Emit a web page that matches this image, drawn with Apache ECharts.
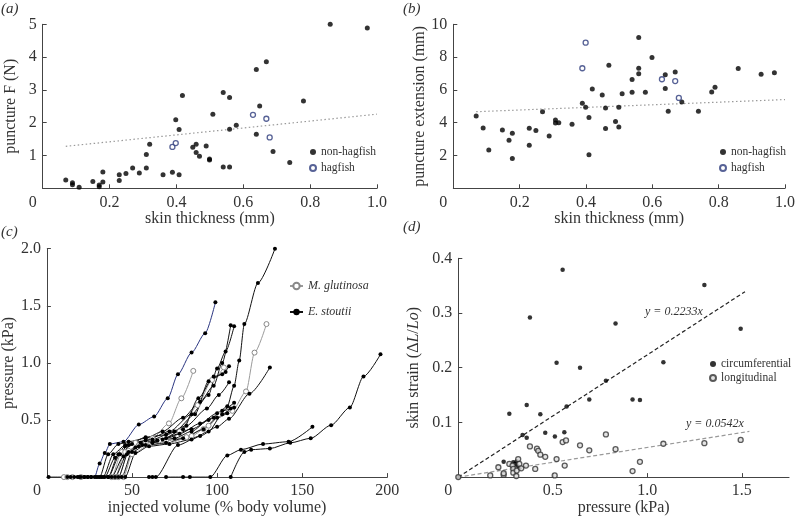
<!DOCTYPE html>
<html><head><meta charset="utf-8">
<script src="https://cdn.jsdelivr.net/npm/echarts@6/dist/echarts.min.js"></script>
<style>html,body{margin:0;padding:0;background:#fff}#c{width:798px;height:517px}</style>
</head><body><div id="c"></div>
<script>
// ---------- Panel (a): puncture force vs skin thickness ----------
const aNonHagfish = [[0.069,0.25],[0.089,0.17],[0.089,0.11],[0.109,0.03],[0.15,0.21],[0.169,0.10],[0.169,0.05],[0.18,0.50],[0.18,0.19],[0.229,0.41],[0.229,0.24],[0.249,0.45],[0.269,0.62],[0.289,0.47],[0.31,1.03],[0.31,0.62],[0.32,1.34],[0.36,0.41],[0.388,0.49],[0.398,2.09],[0.408,1.79],[0.408,0.41],[0.418,2.83],[0.449,1.25],[0.459,1.34],[0.459,1.09],[0.469,0.98],[0.489,1.29],[0.499,0.89],[0.499,0.86],[0.509,2.26],[0.54,2.92],[0.54,0.65],[0.559,2.77],[0.559,1.80],[0.559,0.65],[0.579,1.92],[0.639,3.62],[0.639,1.65],[0.649,2.51],[0.669,3.86],[0.689,1.12],[0.739,0.79],[0.78,2.66],[0.86,5.0],[0.971,4.89]];
const aHagfish = [[0.388,1.26],[0.398,1.38],[0.629,2.24],[0.669,2.12],[0.679,1.55]];
const aTrend = [[0.069,1.28],[1.0,2.26]];

// ---------- Panel (b): puncture extension vs skin thickness ----------
const bNonHagfish = [[0.069,4.41],[0.09,3.68],[0.107,2.34],[0.148,3.56],[0.168,2.93],[0.178,3.35],[0.178,1.81],[0.229,3.66],[0.229,2.62],[0.249,3.52],[0.269,4.67],[0.289,3.19],[0.308,4.17],[0.308,3.98],[0.318,4.00],[0.358,3.90],[0.389,5.18],[0.399,4.94],[0.409,4.31],[0.409,2.05],[0.419,6.06],[0.449,5.69],[0.459,4.90],[0.459,3.64],[0.469,7.50],[0.489,4.07],[0.499,4.94],[0.499,3.74],[0.509,5.77],[0.539,6.63],[0.539,5.85],[0.559,9.19],[0.559,7.32],[0.559,6.99],[0.579,5.85],[0.599,7.97],[0.639,6.93],[0.639,6.08],[0.648,4.70],[0.669,7.09],[0.689,5.26],[0.739,4.70],[0.779,5.87],[0.789,6.16],[0.859,7.30],[0.928,6.95],[0.968,7.05]];
const bHagfish = [[0.389,7.32],[0.399,8.88],[0.629,6.65],[0.669,6.54],[0.68,5.51]];
const bTrend = [[0.069,4.67],[1.0,5.41]];

// ---------- Panel (c): pressure vs injected volume ----------
const cBlue = [[14,0],[19,0],[24,0],[28,0],[31,0.12],[34,0.21],[37,0.29],[45,0.31],[54,0.46],[63,0.53],[71,0.69],[77,0.9],[85,1.09],[93,1.26],[99,1.53]];
const cK1 = [[1,0],[22,0],[34,0],[40,0.17],[46,0.27],[55,0.3],[70,0.34],[85,0.42],[98,0.52],[106,0.62],[110,0.8],[113,1.02],[116,1.34],[124,1.7],[134,2.0]];
const cK2 = [[12,0],[26,0],[31,0],[36,0.2],[42,0.29],[48,0.31],[58,0.34],[68,0.4],[80,0.52],[90,0.66],[98,0.8],[103,1.0],[108,1.33]];
const cK3 = [[16,0],[29,0],[33,0],[39,0.2],[46,0.28],[58,0.32],[72,0.4],[85,0.55],[95,0.72],[100,0.95],[105,1.1],[110,1.32]];
const cK4 = [[20,0],[36,0],[43,0.2],[50,0.29],[62,0.33],[75,0.4],[87,0.55],[95,0.84],[103,0.9],[107,0.97]];
const cK5 = [[60,0],[62,0],[64,0],[77,0.28],[90,0.36],[100,0.44],[107,0.51],[119,0.73],[131,0.96]];
const cK6 = [[22,0],[38,0],[45,0.18],[52,0.26],[62,0.3],[75,0.34],[85,0.4],[95,0.5],[103,0.58],[110,0.61]];
const cK7 = [[24,0],[40,0],[47,0.2],[54,0.27],[65,0.32],[78,0.38],[90,0.47],[100,0.56],[110,0.65]];
const cK8 = [[26,0],[42,0],[48,0.22],[56,0.28],[68,0.33],[80,0.42],[89,0.69],[98,0.88],[105,0.92]];
const cK9 = [[18,0],[36,0],[42,0.2],[48,0.28],[58,0.35],[70,0.37],[82,0.45],[94,0.6],[101,0.72],[107,0.83]];
const cK10 = [[30,0],[44,0],[50,0.22],[58,0.28],[70,0.3],[80,0.34],[92,0.42],[100,0.52],[106,0.56]];
const cK11 = [[32,0],[46,0],[52,0.21],[60,0.27],[72,0.29],[85,0.33],[95,0.4],[103,0.55],[108,0.6]];
const cR1 = [[70,0],[80,0],[84,0],[96,0],[106,0.19],[114,0.24],[127,0.29],[142,0.31],[156,0.44]];
const cR2 = [[108,0],[116,0.22],[120,0.24],[131,0.25],[143,0.3],[155,0.34],[167,0.455],[178,0.61],[186,0.88],[196,1.075]];
const cG1 = [[10,0],[38,0],[44,0.22],[52,0.3],[62,0.34],[71.7,0.47],[79,0.69],[86,0.93]];
const cG2 = [[15,0],[45,0],[50,0.2],[60,0.28],[72,0.3],[85,0.36],[95,0.45],[102,0.55],[109,0.58],[117,0.75],[122,1.09],[129,1.34]];
const cG3 = [[12,0],[40,0],[46,0.22],[54,0.28],[66,0.32],[78,0.4],[88.5,0.63],[97,0.85],[104,0.96]];
const cG4 = [[20,0],[42,0],[48,0.23],[58,0.3],[70,0.32],[82,0.35],[92,0.42],[101,0.55]];
const cStoutii = [cK1,cK2,cK3,cK4,cK5,cK6,cK7,cK8,cK9,cK10,cK11,cR1,cR2];
const cGlutinosa = [cG1,cG2,cG3,cG4];

// ---------- Panel (d): skin strain vs pressure ----------
const dCirc = [[0,0],[0.552,0.379],[1.302,0.351],[0.379,0.292],[0.832,0.281],[1.494,0.271],[0.52,0.209],[0.644,0.2],[1.085,0.21],[0.781,0.176],[0.693,0.142],[0.922,0.142],[0.961,0.141],[0.573,0.129],[0.362,0.132],[0.27,0.116],[0.434,0.115],[0.34,0.077],[0.362,0.072],[0.46,0.081],[0.511,0.074],[0.561,0.082],[0.24,0.028],[0.291,0.027],[0.3,0.024],[0.309,0.029],[0.312,0.021],[0.323,0.016]];
const dLong = [[0,0],[0.169,0.003],[0.24,0.004],[0.24,0.007],[0.212,0.018],[0.27,0.024],[0.287,0.021],[0.291,0.015],[0.291,0.008],[0.307,0.002],[0.309,0.012],[0.317,0.033],[0.323,0.024],[0.333,0.016],[0.358,0.021],[0.379,0.056],[0.407,0.015],[0.416,0.052],[0.423,0.048],[0.434,0.041],[0.46,0.037],[0.51,0.003],[0.52,0.033],[0.552,0.064],[0.563,0.021],[0.57,0.067],[0.644,0.058],[0.693,0.049],[0.781,0.078],[0.832,0.051],[0.922,0.011],[0.961,0.028],[1.085,0.061],[1.302,0.062],[1.494,0.068]];
const dCircFit = [[0,0],[1.517,0.339]];
const dLongFit = [[0,0],[1.54,0.0835]];

const SERIF = 'Liberation Serif';
const TXT = '#333';
const chart = echarts.init(document.getElementById('c'), null, {renderer:'canvas'});

function xAxisCfg(gi, min, max, interval, name, gap, dec){
  const onTick = Math.abs(max/interval - Math.round(max/interval)) < 1e-9;
  return {
    type:'value', gridIndex:gi, min, max, interval, name, nameLocation:'middle', nameGap:gap,
    nameTextStyle:{fontFamily:SERIF, fontSize:16, color:TXT},
    axisLine:{show:true, onZero:false, lineStyle:{color:'#444', width:1}},
    axisTick:{show:true, inside:true, length:4, lineStyle:{color:'#444'}},
    splitLine:{show:false},
    axisLabel:{fontFamily:SERIF, fontSize:16, color:TXT, margin:6, showMaxLabel:onTick,
      formatter: v => v===0 ? '{z|0}' : v.toFixed(dec),
      rich:{z:{fontFamily:SERIF, fontSize:16, color:TXT, padding:[0,20,0,0]}}}
  };
}
function yAxisCfg(gi, min, max, interval, name, gap, dec, rich){
  return {
    type:'value', gridIndex:gi, min, max, interval, name, nameLocation:'middle', nameGap:gap,
    nameTextStyle:{fontFamily:SERIF, fontSize:16, color:TXT, rich: rich},
    axisLine:{show:true, onZero:false, lineStyle:{color:'#444', width:1}},
    axisTick:{show:true, inside:true, length:4, lineStyle:{color:'#444'}},
    splitLine:{show:false},
    axisLabel:{fontFamily:SERIF, fontSize:16, color:TXT, margin:6,
      formatter: v => v===0 ? '' : v.toFixed(dec)}
  };
}

const series = [];
// (a)
series.push({name:'non-hagfish', type:'scatter', xAxisIndex:0, yAxisIndex:0, data:aNonHagfish, symbolSize:5, itemStyle:{color:'#000'}, z:3});
series.push({name:'hagfish', type:'scatter', xAxisIndex:0, yAxisIndex:0, data:aHagfish, symbolSize:5, itemStyle:{color:'#fff', borderColor:'#2d3b7c', borderWidth:1.3}, z:3});
series.push({type:'line', xAxisIndex:0, yAxisIndex:0, data:aTrend, symbol:'none', lineStyle:{color:'#999', width:1.2, type:[1.5,2.5]}, silent:true});
// (b)
series.push({name:'non-hagfish', type:'scatter', xAxisIndex:1, yAxisIndex:1, data:bNonHagfish, symbolSize:5, itemStyle:{color:'#000'}, z:3});
series.push({name:'hagfish', type:'scatter', xAxisIndex:1, yAxisIndex:1, data:bHagfish, symbolSize:5, itemStyle:{color:'#fff', borderColor:'#2d3b7c', borderWidth:1.3}, z:3});
series.push({type:'line', xAxisIndex:1, yAxisIndex:1, data:bTrend, symbol:'none', lineStyle:{color:'#999', width:1.2, type:[1.5,2.5]}, silent:true});
// (c)
cGlutinosa.forEach(d => series.push({name:'M. glutinosa', type:'line', xAxisIndex:2, yAxisIndex:2, data:d, smooth:0.25, smoothMonotone:'x',
  symbol:'circle', symbolSize:5, showAllSymbol:true, lineStyle:{color:'#9a9a9a', width:1},
  itemStyle:{color:'#fff', borderColor:'#888', borderWidth:1}}));
cStoutii.forEach(d => series.push({name:'E. stoutii', type:'line', xAxisIndex:2, yAxisIndex:2, data:d, smooth:0.25, smoothMonotone:'x',
  symbol:'circle', symbolSize:4, showAllSymbol:true, lineStyle:{color:'#111', width:1},
  itemStyle:{color:'#000'}}));
series.push({type:'line', xAxisIndex:2, yAxisIndex:2, data:cBlue, smooth:0.25, smoothMonotone:'x',
  symbol:'circle', symbolSize:4, showAllSymbol:true, lineStyle:{color:'#2a3580', width:1}, itemStyle:{color:'#000'}});
// (d)
series.push({type:'line', xAxisIndex:3, yAxisIndex:3, data:dCircFit, symbol:'none', lineStyle:{color:'#222', width:1.2, type:[4,2.5]}, silent:true});
series.push({type:'line', xAxisIndex:3, yAxisIndex:3, data:dLongFit, symbol:'none', lineStyle:{color:'#999', width:1.2, type:[4,2.5]}, silent:true});
series.push({name:'circumferential', type:'scatter', xAxisIndex:3, yAxisIndex:3, data:dCirc, symbolSize:4.5, itemStyle:{color:'#000'}, z:3});
series.push({name:'longitudinal', type:'scatter', xAxisIndex:3, yAxisIndex:3, data:dLong, symbolSize:5, itemStyle:{color:'#ddd', borderColor:'#333', borderWidth:1.3}, z:3});

const legendText = {fontFamily:SERIF, fontSize:11.5, color:TXT};
const option = {
  animation:false,
  backgroundColor:'#fff',
  grid:[
    {left:42.7, top:24.3, width:334.3, height:164},
    {left:453.3, top:24.3, width:335, height:164},
    {left:44.3, top:248.7, width:343, height:230},
    {left:458.3, top:258.3, width:330.75, height:220}
  ],
  xAxis:[
    xAxisCfg(0, 0, 1.0, 0.2, 'skin thickness (mm)', 22, 1),
    xAxisCfg(1, 0, 1.0, 0.2, 'skin thickness (mm)', 22, 1),
    xAxisCfg(2, 0, 200, 50, 'injected volume (% body volume)', 21, 0),
    xAxisCfg(3, 0, 1.75, 0.5, 'pressure (kPa)', 20, 1)
  ],
  yAxis:[
    yAxisCfg(0, 0, 5, 1, 'puncture F (N)', 24, 0),
    yAxisCfg(1, 0, 10, 2, 'puncture extension (mm)', 22, 0),
    yAxisCfg(2, 0, 2.0, 0.5, 'pressure (kPa)', 26, 1),
    yAxisCfg(3, 0, 0.4, 0.1, 'skin strain (Δ{i|L}/{i|Lo})', 37, 1, {i:{fontFamily:SERIF, fontSize:16, color:TXT, fontStyle:'italic'}})
  ],
  legend:[
    {data:['non-hagfish','hagfish'], orient:'vertical', left:309, top:146, padding:0, itemWidth:6, itemHeight:6, itemGap:4, textStyle:legendText, selectedMode:false},
    {data:['non-hagfish','hagfish'], orient:'vertical', left:719, top:146, padding:0, itemWidth:6, itemHeight:6, itemGap:4, textStyle:legendText, selectedMode:false},
    {data:['M. glutinosa','E. stoutii'], orient:'vertical', left:289, top:280, padding:0, itemWidth:13, itemHeight:8, itemGap:14, textStyle:Object.assign({}, legendText, {fontSize:12, fontStyle:'italic'}), selectedMode:false},
    {data:['circumferential','longitudinal'], orient:'vertical', left:709, top:358, padding:0, width:90, itemWidth:6, itemHeight:6, itemGap:2, textStyle:legendText, selectedMode:false}
  ],
  graphic:[
    {type:'text', left:1, top:2, style:{text:'(a)', font:'italic 15px "Liberation Serif"', fill:TXT}},
    {type:'text', left:403, top:2, style:{text:'(b)', font:'italic 15px "Liberation Serif"', fill:TXT}},
    {type:'text', left:1, top:225, style:{text:'(c)', font:'italic 15px "Liberation Serif"', fill:TXT}},
    {type:'text', left:403, top:220, style:{text:'(d)', font:'italic 15px "Liberation Serif"', fill:TXT}},
    {type:'text', left:645, top:306, style:{text:'y = 0.2233x', font:'italic 12px "Liberation Serif"', fill:TXT}},
    {type:'text', left:686, top:418, style:{text:'y = 0.0542x', font:'italic 12px "Liberation Serif"', fill:TXT}}
  ],
  series
};
chart.setOption(option);
</script>
</body></html>
